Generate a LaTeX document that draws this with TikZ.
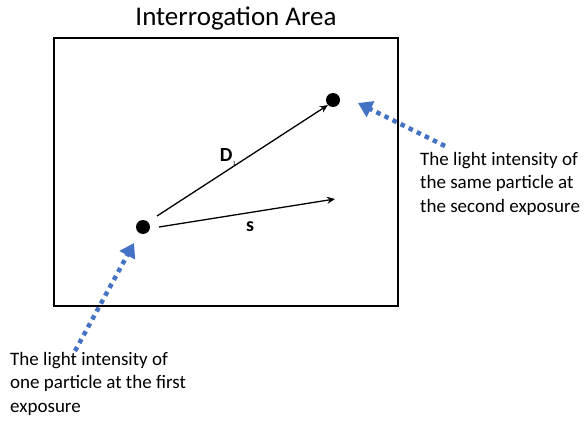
\documentclass[tikz,border=0pt]{standalone}
\usepackage{fontspec}
\setmainfont{Carlito}
\usetikzlibrary{arrows.meta,positioning}
\definecolor{officeblue}{HTML}{4472C4}

\begin{document}
\begin{tikzpicture}[x=1pt,y=-1pt,
  particle/.style={circle, fill=black, inner sep=0pt, minimum size=14pt},
  blue pointer/.style={draw=officeblue, line width=4.5pt, dash pattern=on 4.5pt off 4.5pt, -{Triangle[length=14pt,width=17pt]}},
  caption/.style={align=left, anchor=north west, font=\fontsize{19}{23.5}\selectfont, inner sep=0pt}]
  \useasboundingbox (0,0) rectangle (586,425);
  \draw[line width=2.8pt] (54,38) rectangle (398,306);
  \node[font=\fontsize{27}{30}\selectfont] (title) at (236,18) {Interrogation Area};
  \node[particle] (first) at (143,227) {};
  \node[particle] (second) at (333,100) {};
  \coordinate (dstart) at (157,216);
  \coordinate (sstart) at (159,227);
  \coordinate (send) at (335,199);
  \draw[-{Stealth[length=8pt,width=7pt]}, line width=1.3pt] (dstart) -- (second.south west);
  \draw[-{Stealth[length=8pt,width=7pt]}, line width=1.3pt] (sstart) -- (send);
  \node[font=\fontsize{20}{20}\selectfont\bfseries] (dlabel) at (228,157) {D\textsubscript{\fontsize{6}{6}\selectfont\mdseries 1}};
  \node[font=\fontsize{20}{20}\selectfont\bfseries] (slabel) at (250,227) {s};
  % pointers to the two exposures
  \coordinate (ptail1) at (75,351);
  \coordinate (ptip1) at (134,243);
  \coordinate (ptail2) at (445,146);
  \coordinate (ptip2) at (358,103);
  \draw[blue pointer] (ptail1) -- (ptip1);
  \draw[blue pointer] (ptail2) -- (ptip2);
  \node[caption] (capsecond) at (420,152) {The light intensity of\\the same particle at\\the second exposure};
  \node[caption] (capfirst) at (10,352) {The light intensity of\\one particle at the first\\exposure};
\end{tikzpicture}
\end{document}
